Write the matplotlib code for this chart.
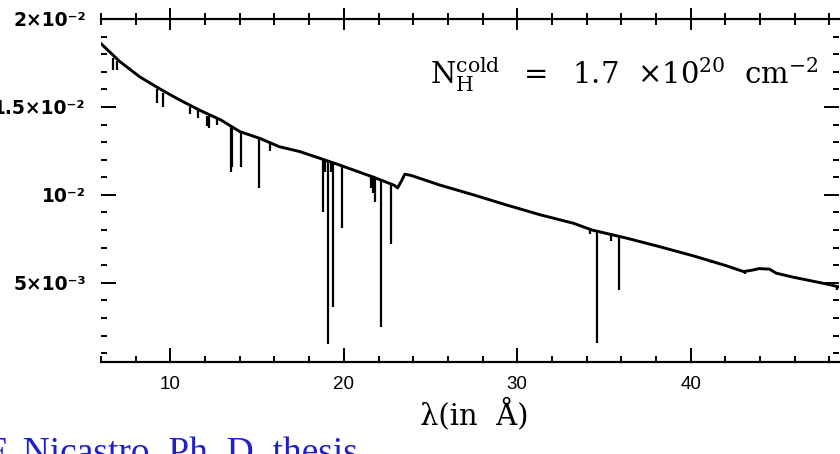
import matplotlib
matplotlib.use("Agg")
import matplotlib.pyplot as plt
from matplotlib.ticker import FixedLocator, FixedFormatter, MultipleLocator

# continuum of the model spectrum (wavelength in Angstrom, flux)
cont_lam = [6.0, 7.06, 8.25, 9.44, 10.53, 11.72, 12.91, 14.00, 15.19, 16.28,
            17.47, 18.56, 19.75, 21.73, 22.90, 23.10, 23.30, 23.52, 23.90,
            25.50, 27.48, 29.37, 31.35, 33.23, 34.32, 36.31, 38.19, 40.17,
            42.06, 43.05, 43.64, 43.94, 44.54, 44.93, 45.92, 47.81, 48.55]
cont_flux = [0.0186, 0.0176, 0.0167, 0.0160, 0.0154, 0.0148, 0.01426, 0.0136,
             0.0132, 0.01274, 0.01246, 0.0121, 0.0117, 0.0110, 0.01055,
             0.01040, 0.01075, 0.01118, 0.01110, 0.01057, 0.0100, 0.00943,
             0.00886, 0.00839, 0.0080, 0.00754, 0.00706, 0.00653, 0.00597,
             0.00564, 0.00574, 0.00581, 0.00578, 0.00555, 0.00532, 0.00494,
             0.00477]

# absorption lines: position, continuum level, line bottom
line_lam = [6.69, 6.92, 9.21, 9.59, 11.13, 11.59, 12.12, 12.22, 12.66, 13.50,
            13.58, 14.07, 15.12, 15.74, 18.82, 18.93, 19.07, 19.25, 19.39,
            19.91, 21.54, 21.68, 21.79, 22.12, 22.70, 34.19, 34.57, 35.42,
            35.88, 41.17, 43.15, 48.45]
line_top = [0.0178, 0.0176, 0.0160, 0.0158, 0.0150, 0.0148, 0.0145, 0.0145,
            0.0143, 0.0139, 0.0139, 0.0136, 0.0132, 0.0130, 0.0120, 0.0120,
            0.0119, 0.0119, 0.0118, 0.0117, 0.0111, 0.0111, 0.0110, 0.0109,
            0.0106, 0.0081, 0.0080, 0.00778, 0.00768, 0.0063, 0.0057, 0.0048]
line_bottom = [0.0171, 0.0171, 0.0152, 0.0150, 0.0146, 0.0144, 0.0139, 0.0138,
               0.0140, 0.0113, 0.0116, 0.0116, 0.0104, 0.0125, 0.0090, 0.0113,
               0.0015, 0.0113, 0.0036, 0.0081, 0.0104, 0.0101, 0.0096, 0.0025,
               0.0072, 0.0078, 0.0016, 0.0074, 0.0046, 0.0061, 0.0055, 0.0046]

xticks = [10, 20, 30, 40]
xtick_labels = ["10", "20", "30", "40"]
yticks = [0.005, 0.010, 0.015, 0.020]
ytick_labels = ["5×10⁻³", "10⁻²", "1.5×10⁻²", "2×10⁻²"]

fig = plt.figure(figsize=(8.4, 4.54), dpi=100)
ax = fig.add_axes([101/840, 1-362/454, 738/840, 343/454])

ax.plot(cont_lam, cont_flux, color="black", lw=2.1, solid_joinstyle="round")
ax.vlines(line_lam, line_bottom, line_top, color="black", lw=1.6)

ax.set_xlim(6.0, 48.55)
ax.set_ylim(0.0005, 0.020)

ax.spines["left"].set_visible(False)
ax.spines["right"].set_visible(False)
ax.spines["top"].set_visible(False)
ax.spines["bottom"].set_linewidth(1.6)

ax.xaxis.set_major_locator(FixedLocator(xticks))
ax.xaxis.set_major_formatter(FixedFormatter(xtick_labels))
ax.xaxis.set_minor_locator(MultipleLocator(2))
ax.yaxis.set_major_locator(FixedLocator(yticks))
ax.yaxis.set_major_formatter(FixedFormatter(ytick_labels))
ax.yaxis.set_minor_locator(MultipleLocator(0.001))

ax.tick_params(axis="x", which="both", bottom=True, top=False, direction="in",
               width=1.4, labelsize=13.5, pad=10)
ax.tick_params(axis="x", which="major", length=10)
ax.tick_params(axis="x", which="minor", length=4)
ax.tick_params(axis="y", which="both", left=True, right=True, direction="in",
               width=1.4, labelsize=13.5, pad=11)
ax.tick_params(axis="y", which="major", length=11)
ax.tick_params(axis="y", which="minor", length=4)
for lab in ax.get_yticklabels():
    lab.set_fontweight("bold")
for lab in ax.get_xticklabels():
    lab.set_family("Liberation Sans")

# top axis with ticks crossing the frame line
top = ax.secondary_xaxis("top")
top.spines["top"].set_linewidth(1.6)
top.xaxis.set_major_locator(FixedLocator(xticks))
top.xaxis.set_minor_locator(MultipleLocator(2))
top.tick_params(axis="x", which="both", direction="inout", width=1.4,
                labeltop=False)
top.tick_params(axis="x", which="major", length=16)
top.tick_params(axis="x", which="minor", length=8)

fig.text(430/840, 1-84/454,
         r"$\mathrm{N_H^{cold}}$  $=$  1.7  $\times$10$^{20}$  cm$^{-2}$",
         family="DejaVu Serif", fontsize=21, ha="left", va="baseline",
         math_fontfamily="dejavuserif")

fig.text(474/840, 1-414/454, "λ(in  Å)", family="DejaVu Serif", fontsize=21,
         ha="center", va="center")

fig.text(-14/840, (454-463)/454, "F. Nicastro, Ph. D. thesis",
         family="Liberation Serif", fontsize=27, color="#2020c8",
         ha="left", va="baseline")

fig.savefig("out.png", dpi=100)
